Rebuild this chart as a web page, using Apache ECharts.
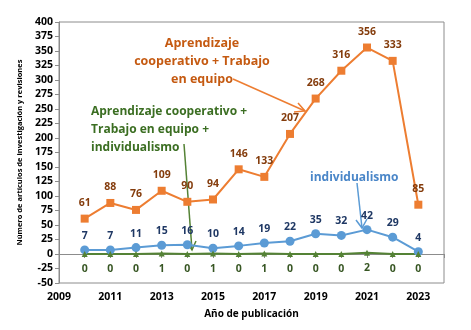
<!DOCTYPE html>
<html><head><meta charset="utf-8">
<script src="https://cdn.jsdelivr.net/npm/echarts@6/dist/echarts.min.js"></script>
<style>html,body{margin:0;padding:0;background:#fff}#c{width:471px;height:330px}</style>
</head><body><div id="c"></div>
<script>
var years = [2010,2011,2012,2013,2014,2015,2016,2017,2018,2019,2020,2021,2022,2023];
var cooperativo = [61,88,76,109,90,94,146,133,207,268,316,356,333,85];
var individualismo = [7,7,11,15,16,10,14,19,22,35,32,42,29,4];
var combinado = [0,0,0,1,0,1,0,1,0,0,0,2,0,0];
var yTicks = [-50,400,25];
var xTicks = [2009,2024,1];

function pairs(v){return years.map(function(y,i){return [y,v[i]];});}
var F = 'Open Sans, Liberation Sans, sans-serif';
var chart = echarts.init(document.getElementById('c'));
chart.setOption({
  animation:false,
  grid:{left:59,right:27,top:22,bottom:47,show:true,borderColor:'#8c8c8c',borderWidth:1},
  xAxis:{type:'value',min:xTicks[0],max:xTicks[1],interval:xTicks[2],
    name:'Año de publicación',nameLocation:'middle',nameGap:26,
    nameTextStyle:{fontFamily:F,fontWeight:'bold',fontSize:10,color:'#000'},
    axisLine:{show:true,lineStyle:{color:'#8c8c8c'}},
    axisTick:{show:true,length:4,inside:false,lineStyle:{color:'#8c8c8c'}},
    splitLine:{show:false},
    axisLabel:{fontFamily:F,fontWeight:'bold',fontSize:10.5,color:'#000',margin:9,
      formatter:function(v){return (v%2===1 && v<2024)?String(v):'';}}},
  yAxis:{type:'value',min:yTicks[0],max:yTicks[1],interval:yTicks[2],
    name:'Número de artículos de investigación y revisiones',nameLocation:'middle',nameGap:35,
    nameTextStyle:{fontFamily:F,fontWeight:'bold',fontSize:7.5,color:'#000'},
    axisLine:{show:true,lineStyle:{color:'#8c8c8c'}},
    axisTick:{show:true,length:4,lineStyle:{color:'#8c8c8c'}},
    splitLine:{show:false},
    axisLabel:{fontFamily:F,fontWeight:'bold',fontSize:10.5,color:'#000',margin:6}},
  series:[
    {type:'line',data:pairs(cooperativo),symbol:'rect',symbolSize:8,
      lineStyle:{color:'#ED7D31',width:2},itemStyle:{color:'#ED7D31'},
      label:{show:true,position:'top',distance:6,fontFamily:F,fontWeight:'bold',fontSize:10.5,color:'#843C0C'}},
    {type:'line',data:pairs(individualismo),symbol:'circle',symbolSize:9,
      lineStyle:{color:'#5B9BD5',width:2},itemStyle:{color:'#5B9BD5'},
      label:{show:true,position:'top',distance:4,fontFamily:F,fontWeight:'bold',fontSize:10.5,color:'#1F3864'}},
    {type:'line',data:pairs(combinado),symbol:'triangle',symbolSize:6,
      lineStyle:{color:'#548235',width:2},itemStyle:{color:'#548235'},
      label:{show:true,position:'bottom',distance:7,fontFamily:F,fontWeight:'bold',fontSize:10.5,color:'#375623'}}
  ],
  graphic:[
    {type:'text',style:{text:'Aprendizaje\ncooperativo + Trabajo\nen equipo',x:202,y:34,textAlign:'center',
        font:'bold 12.5px '+F,fill:'#C55A11',lineHeight:18}},
    {type:'line',shape:{x1:233,y1:79,x2:305,y2:111},style:{stroke:'#ED7D31',lineWidth:1.5}},
    {type:'polyline',shape:{points:[[294,112],[305,111],[298,103]]},style:{stroke:'#ED7D31',lineWidth:1.5,fill:null}},
    {type:'text',style:{text:'Aprendizaje cooperativo +\nTrabajo en equipo +\nindividualismo',x:91,y:103,textAlign:'left',
        font:'bold 12px '+F,fill:'#3B6E22',lineHeight:18}},
    {type:'line',shape:{x1:184,y1:144,x2:192,y2:250},style:{stroke:'#548235',lineWidth:1.5}},
    {type:'polyline',shape:{points:[[187,242],[192,250],[196,241]]},style:{stroke:'#548235',lineWidth:1.5,fill:null}},
    {type:'text',style:{text:'individualismo',x:310,y:172,textAlign:'left',
        font:'bold 12px '+F,fill:'#4A86C8'}},
    {type:'line',shape:{x1:357,y1:183,x2:362,y2:228},style:{stroke:'#5B9BD5',lineWidth:1.5}},
    {type:'polyline',shape:{points:[[356,220],[362,228],[367,219]]},style:{stroke:'#5B9BD5',lineWidth:1.5,fill:null}}
  ]
});
</script></body></html>
